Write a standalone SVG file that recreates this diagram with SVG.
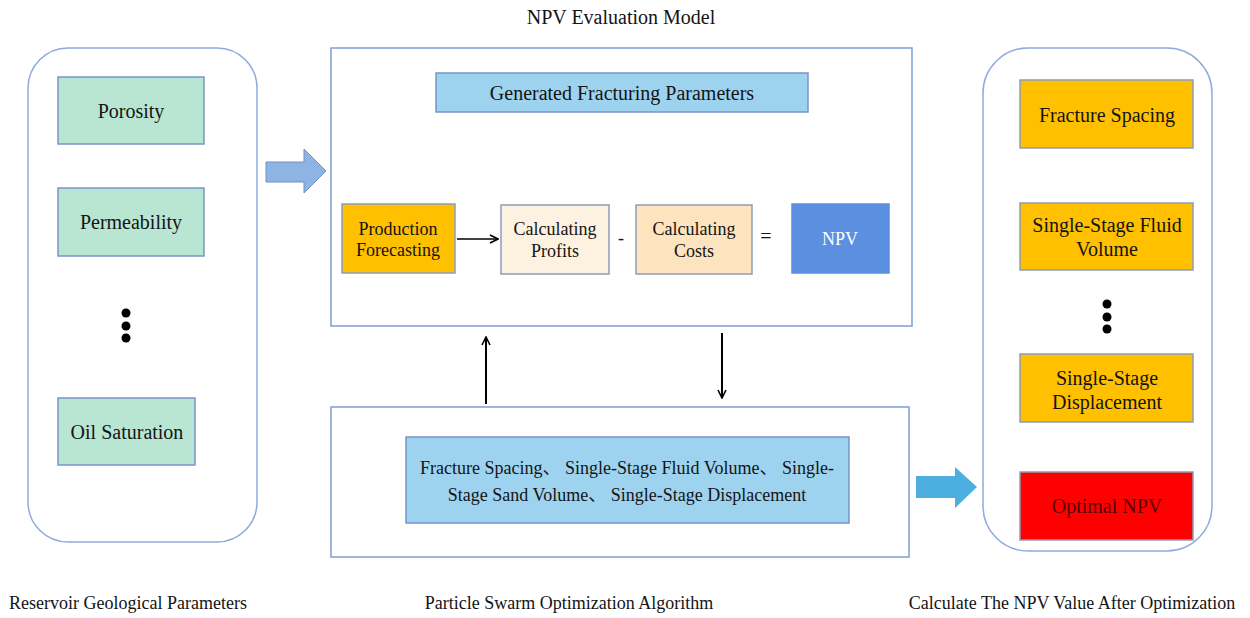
<svg xmlns="http://www.w3.org/2000/svg" width="1250" height="618" viewBox="0 0 1250 618" font-family="'Liberation Serif', 'Noto Sans CJK SC', serif">
<defs>
<style>
text{fill:#141414;text-anchor:middle;dominant-baseline:central}
.cont{fill:#fff;stroke:#8FAADC;stroke-width:1.5}
.green{fill:#B8E6D3;stroke:#7A95C8;stroke-width:1.5}
.orange{fill:#FFC000;stroke:#8E9DB8;stroke-width:1.5}
.sky{fill:#9DD3EF;stroke:#7A95C8;stroke-width:1.5}
.t20{font-size:20px}
.t18{font-size:18px}
.lab{font-size:18px}
.dot{fill:#000}
</style>
<marker id="ah" viewBox="0 0 10 10" refX="9" refY="5" markerWidth="10" markerHeight="10" markerUnits="userSpaceOnUse" orient="auto">
<path d="M1,1 L9,5 L1,9" fill="none" stroke="#000" stroke-width="1.6"/>
</marker>
</defs>
<rect width="1250" height="618" fill="#fff"/>

<text x="621" y="17" style="font-size:20px">NPV Evaluation Model</text>

<g id="reservoir">
<rect class="cont" x="28" y="48" width="229" height="494" rx="40"/>
<g id="porosity"><rect class="green" x="58" y="77" width="146" height="67"/><text class="t20" x="131" y="111">Porosity</text></g>
<g id="permeability"><rect class="green" x="58" y="188" width="146" height="68"/><text class="t20" x="131" y="222">Permeability</text></g>
<circle class="dot" cx="126" cy="313" r="4.5"/><circle class="dot" cx="126" cy="326" r="4.5"/><circle class="dot" cx="126" cy="338" r="4.5"/>
<g id="oil"><rect class="green" x="58" y="398" width="137" height="67"/><text class="t20" x="127" y="432">Oil Saturation</text></g>
</g>

<g id="npvmodel">
<rect x="331" y="48" width="581" height="278" fill="#fff" stroke="#7F9FD4" stroke-width="1.5"/>
<g id="generated"><rect class="sky" x="436" y="73" width="372" height="39"/><text class="t20" x="622" y="93">Generated Fracturing Parameters</text></g>
<g id="production"><rect class="orange" x="342" y="204" width="113" height="69"/><text class="t18" x="398" y="229">Production</text><text class="t18" x="398" y="250">Forecasting</text></g>
<g id="profits"><rect x="501" y="205" width="108" height="69" fill="#FDF1E0" stroke="#8E9DB8" stroke-width="1.5"/><text class="t18" x="555" y="229">Calculating</text><text class="t18" x="555" y="251">Profits</text></g>
<text class="t18" x="621" y="238">-</text>
<g id="costs"><rect x="636" y="205" width="116" height="69" fill="#FDE3BE" stroke="#8E9DB8" stroke-width="1.5"/><text class="t18" x="694" y="229">Calculating</text><text class="t18" x="694" y="251">Costs</text></g>
<text class="t20" x="766" y="236">=</text>
<g id="npv"><rect x="792" y="204" width="97" height="69" fill="#5B8FE0" stroke="#5B8FE0" stroke-width="1.5"/><text class="t18" x="840" y="239" style="fill:#fff">NPV</text></g>
</g>

<g id="pso">
<rect x="331" y="407" width="578" height="150" fill="#fff" stroke="#7F9FD4" stroke-width="1.5"/>
<rect class="sky" x="406" y="437" width="443" height="86"/>
<text class="t18" x="627" y="468">Fracture Spacing、 Single-Stage Fluid Volume、 Single-</text>
<text class="t18" x="627" y="495">Stage Sand Volume、 Single-Stage Displacement</text>
</g>

<g id="result">
<rect class="cont" x="983" y="48" width="229" height="503" rx="45"/>
<g id="spacing"><rect class="orange" x="1020" y="80" width="173" height="68"/><text class="t20" x="1107" y="115">Fracture Spacing</text></g>
<g id="fluid"><rect class="orange" x="1020" y="203" width="173" height="67"/><text class="t20" x="1107" y="225">Single-Stage Fluid</text><text class="t20" x="1107" y="249">Volume</text></g>
<circle class="dot" cx="1107" cy="304" r="4.5"/><circle class="dot" cx="1107" cy="317" r="4.5"/><circle class="dot" cx="1107" cy="329" r="4.5"/>
<g id="displacement"><rect class="orange" x="1020" y="354" width="173" height="68"/><text class="t20" x="1107" y="378">Single-Stage</text><text class="t20" x="1107" y="402">Displacement</text></g>
<g id="optimal"><rect x="1020" y="472" width="173" height="68" fill="#FF0000" stroke="#8E9DB8" stroke-width="1.5"/><text class="t20" x="1107" y="506" style="fill:#5a0000">Optimal NPV</text></g>
</g>

<g id="connectors">
<path d="M266,162 H304 V149 L326,171 L304,193 V182 H266 Z" fill="#8EB4E3" stroke="#7090C8" stroke-width="1"/>
<path d="M916,476 H955 V467 L977,487 L955,508 V498 H916 Z" fill="#4DAFDF"/>
<line x1="457" y1="239" x2="498" y2="239" stroke="#000" stroke-width="1.6" marker-end="url(#ah)"/>
<line x1="486" y1="404" x2="486" y2="337" stroke="#000" stroke-width="2" marker-end="url(#ah)"/>
<line x1="722" y1="333" x2="722" y2="398" stroke="#000" stroke-width="2" marker-end="url(#ah)"/>
</g>

<text class="lab" x="128" y="603">Reservoir Geological Parameters</text>
<text class="lab" x="569" y="603">Particle Swarm Optimization Algorithm</text>
<text class="lab" x="1072" y="603">Calculate The NPV Value After Optimization</text>
</svg>
